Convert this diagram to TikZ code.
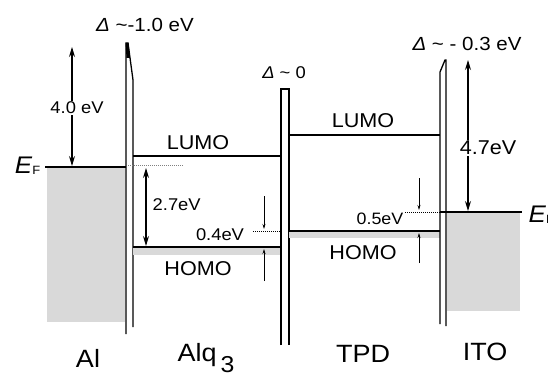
\documentclass[tikz,border=0pt]{standalone}
\usepackage{fontspec}
\setmainfont{Liberation Sans}[FakeStretch=1.08]
\usetikzlibrary{arrows.meta}
\newcommand{\fs}[1]{\fontsize{#1}{#1}\selectfont}
\begin{document}
\begin{tikzpicture}[x=1pt,y=-1pt,
  lvl/.style={line width=1.4pt},
  iface/.style={line width=1.3pt},
  dotline/.style={densely dotted, line width=1pt},
  band/.style={fill=gray!30},
  bigarrow/.style={line width=1.1pt, {Stealth[length=10pt,width=6pt]}-{Stealth[length=10pt,width=6pt]}},
  smallarrow/.style={line width=0.7pt, -{Stealth[length=5pt,width=3pt]}},
  lab/.style={inner sep=0.5pt},
  gap/.style={fill=white, inner sep=1pt},
  matl/.style={font=\fs{25}},
]
\useasboundingbox (0,0) rectangle (548,377);

% ---- Al metal ----
\fill[band] (47,167) rectangle (125,322);
\coordinate (efL1) at (45,167);
\coordinate (efL2) at (126,167);
\draw[line width=1.7pt] (efL1) -- (efL2);
\node[lab, anchor=base east, font=\fs{24}] (efL) at (41,173) {\textit{E}\raisebox{-1pt}{\fs{12}F}};

% Al / Alq3 interface
\draw[iface] (126,334) -- (126,43) -- (128,43) -- (133,80) -- (133,327);
\fill (125.5,43) -- (128.5,43) -- (130,58) -- (126.5,58) -- cycle;

% ---- Alq3 ----
\coordinate (alqL1) at (133,156);
\coordinate (alqL2) at (281,156);
\draw[lvl] (alqL1) -- (alqL2);
\coordinate (dA1) at (128,165);
\coordinate (dA2) at (183,165);
\draw[dotline, gray] (dA1) -- (dA2);
\fill[band] (133,247) rectangle (281,255);
\coordinate (alqH1) at (133,247);
\coordinate (alqH2) at (281,247);
\draw[lvl] (alqH1) -- (alqH2);
\node[lab, font=\fs{20}] (lumoA) at (198,143) {LUMO};
\node[lab, font=\fs{20}] (homoA) at (198,269) {HOMO};

% 4.0 eV
\coordinate (a40b) at (72,166);
\coordinate (a40t) at (72,47);
\draw[bigarrow] (a40b) -- (a40t);
\node[gap, font=\fs{17}] (l40) at (77,108) {4.0 eV};

% 2.7 eV
\coordinate (a27t) at (146,168);
\coordinate (a27b) at (146,246);
\draw[bigarrow] (a27t) -- (a27b);
\node[lab, anchor=west, font=\fs{17}] (l27) at (152,205) {2.7eV};

% 0.4 eV
\coordinate (d04a) at (253,231);
\coordinate (d04b) at (281,231);
\draw[dotline] (d04a) -- (d04b);
\coordinate (a04a) at (264,196);
\coordinate (a04b) at (264,229);
\coordinate (a04c) at (264,281);
\coordinate (a04d) at (264,249);
\draw[smallarrow] (a04a) -- (a04b);
\draw[smallarrow] (a04c) -- (a04d);
\node[lab, font=\fs{17}] (l04) at (220,235) {0.4eV};

% Alq3 / TPD interface
\draw[iface] (281,345) -- (281,89) -- (289,89) -- (289,345);
\draw[line width=2.2pt] (280.5,89) -- (289.5,89);
\node[lab, font=\fs{17}] (d0) at (284,73) {\textit{Δ} \textasciitilde{} 0};

% ---- TPD ----
\coordinate (tpdL1) at (289,135);
\coordinate (tpdL2) at (440,135);
\draw[lvl] (tpdL1) -- (tpdL2);
\fill[band] (289,231) rectangle (440,238);
\coordinate (tpdH1) at (289,231);
\coordinate (tpdH2) at (440,231);
\draw[lvl] (tpdH1) -- (tpdH2);
\node[lab, font=\fs{20}] (lumoT) at (363,121) {LUMO};
\node[lab, font=\fs{20}] (homoT) at (363,253) {HOMO};

% 0.5 eV
\coordinate (d05a) at (405,212);
\coordinate (d05b) at (440,212);
\draw[dotline] (d05a) -- (d05b);
\coordinate (a05a) at (419,178);
\coordinate (a05b) at (419,210);
\coordinate (a05c) at (419,263);
\coordinate (a05d) at (419,233);
\draw[smallarrow] (a05a) -- (a05b);
\draw[smallarrow] (a05c) -- (a05d);
\node[lab, font=\fs{16.5}] (l05) at (380,219) {0.5eV};

% TPD / ITO interface
\draw[iface] (440,324) -- (440,72) -- (445,60) -- (446,60) -- (446,326);

% ---- ITO ----
\fill[band] (447,213) rectangle (520,311);
\coordinate (efR1) at (440,212);
\coordinate (efR2) at (522,212);
\draw[line width=1.7pt] (efR1) -- (efR2);
\node[lab, anchor=base west, font=\fs{24}] (efR) at (528,222) {\textit{E}\raisebox{-1pt}{\fs{12}F}};

% 4.7 eV
\coordinate (a47t) at (468,60);
\coordinate (a47b) at (468,211);
\draw[bigarrow] (a47b) -- (a47t);
\node[gap, font=\fs{20}] (l47) at (488,148) {4.7eV};

% top labels
\node[lab, font=\fs{19}] (d1) at (145,25) {\textit{Δ} \textasciitilde-1.0 eV};
\node[lab, font=\fs{19}] (d3) at (467,44) {\textit{Δ} \textasciitilde{} - 0.3 eV};

% material labels
\node[matl] (mAl) at (88,358) {Al};
\node[matl] (mAlq) at (206,358) {Alq\,\raisebox{-11pt}{\fs{23}3}};
\node[matl] (mTPD) at (363,354) {TPD};
\node[matl] (mITO) at (485,352) {ITO};
\end{tikzpicture}
\end{document}
